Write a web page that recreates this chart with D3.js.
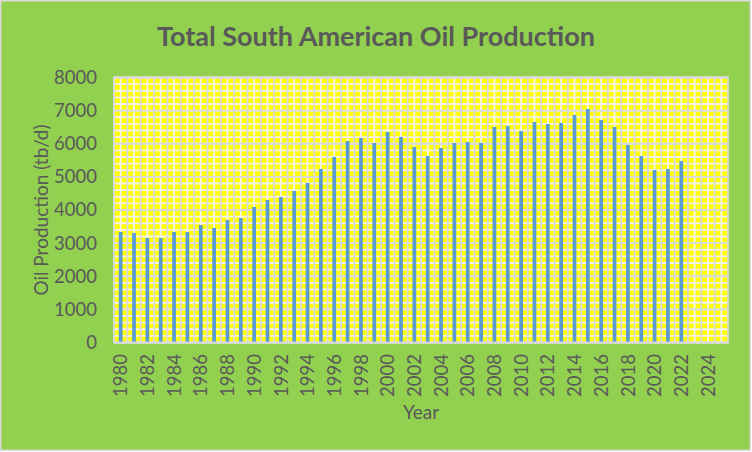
<!DOCTYPE html>
<html>
<head>
<meta charset="utf-8">
<script src="https://cdn.jsdelivr.net/npm/d3@7"></script>
<style>
	body { margin: 0; background: #ffffff; }
	text { font-family: Lato, "Open Sans", sans-serif; fill: #595959; }
</style>
</head>
<body>
<script>
const years = d3.range(1980, 2026);
const yearLabels = d3.range(1980, 2026, 2);
const production = [
	3336, 3306, 3155, 3155, 3336, 3336, 3547, 3457, 3698, 3758,
	4091, 4302, 4392, 4574, 4815, 5238, 5600, 6083, 6174, 6023,
	6355, 6204, 5902, 5630, 5872, 6023, 6053, 6023, 6506, 6536,
	6385, 6657, 6596, 6626, 6868, 7049, 6717, 6506, 5962, 5630,
	5208, 5238, 5479
];
const yTicks = [0, 1000, 2000, 3000, 4000, 5000, 6000, 7000, 8000];

const data = production.map((value, i) => {
	return { year: years[i], value: value };
});

function constructChart(data) {
	const width = 752;
	const height = 452;
	const plot = { left: 114, right: 728, top: 77.5, bottom: 342.5 };

	const scaleX = d3.scaleBand()
		.domain(years)
		.range([plot.left, plot.right]);

	const scaleY = d3.scaleLinear()
		.domain([0, 8000])
		.range([plot.bottom, plot.top]);

	const svg = d3.select("body")
		.append("svg")
		.attr("width", width)
		.attr("height", height);

	// chart area
	svg.append("rect")
		.attr("x", 0.75)
		.attr("y", 0.75)
		.attr("width", width - 2.5)
		.attr("height", height - 2.5)
		.attr("fill", "#92d050")
		.attr("stroke", "#d9d9d9")
		.attr("stroke-width", 1.5);

	// plot area
	svg.append("rect")
		.attr("x", plot.left)
		.attr("y", plot.top)
		.attr("width", plot.right - plot.left)
		.attr("height", plot.bottom - plot.top)
		.attr("fill", "#ffff00");

	const step = scaleX.step();

	// minor gridlines (white)
	svg.append("g")
		.selectAll("line")
		.data(scaleY.ticks(40))
		.join("line")
		.attr("x1", plot.left)
		.attr("x2", plot.right)
		.attr("y1", d => scaleY(d))
		.attr("y2", d => scaleY(d))
		.attr("stroke", "#f2f2f2")
		.attr("stroke-width", 1.9);

	svg.append("g")
		.selectAll("line")
		.data(years)
		.join("line")
		.attr("x1", d => scaleX(d) + step / 2)
		.attr("x2", d => scaleX(d) + step / 2)
		.attr("y1", plot.top)
		.attr("y2", plot.bottom)
		.attr("stroke", "#f2f2f2")
		.attr("stroke-width", 1.9);

	// major gridlines (grey)
	svg.append("g")
		.selectAll("line")
		.data(yTicks)
		.join("line")
		.attr("x1", plot.left)
		.attr("x2", plot.right)
		.attr("y1", d => scaleY(d))
		.attr("y2", d => scaleY(d))
		.attr("stroke", "#d9d9d9")
		.attr("stroke-width", 1.9);

	svg.append("g")
		.selectAll("line")
		.data(years)
		.join("line")
		.attr("x1", d => scaleX(d))
		.attr("x2", d => scaleX(d))
		.attr("y1", plot.top)
		.attr("y2", plot.bottom)
		.attr("stroke", "#d9d9d9")
		.attr("stroke-width", 1.9);

	// bars
	const barWidth = step * 0.28;
	svg.append("g")
		.selectAll("rect")
		.data(data)
		.join("rect")
		.attr("x", d => scaleX(d.year) + (step - barWidth) / 2)
		.attr("y", d => scaleY(d.value))
		.attr("width", barWidth)
		.attr("height", d => scaleY(0) - scaleY(d.value))
		.attr("fill", "#5b9bd5");

	// plot border
	svg.append("rect")
		.attr("x", plot.left)
		.attr("y", plot.top)
		.attr("width", plot.right - plot.left)
		.attr("height", plot.bottom - plot.top)
		.attr("fill", "none")
		.attr("stroke", "#d9d9d9")
		.attr("stroke-width", 1.8);

	// axes
	const axisY = d3.axisLeft(scaleY)
		.tickValues(yTicks)
		.tickFormat(d3.format("d"))
		.tickSize(0)
		.tickPadding(17);

	const axisX = d3.axisBottom(scaleX)
		.tickValues(yearLabels)
		.tickSize(0);

	svg.append("g")
		.attr("class", "scale-y")
		.attr("transform", `translate(${plot.left},0)`)
		.call(axisY)
		.call(g => g.select(".domain").remove())
		.selectAll("text")
		.style("font-size", "18.5px")
		.attr("fill", "#595959");

	svg.append("g")
		.attr("class", "scale-x")
		.attr("transform", `translate(0,${plot.bottom})`)
		.call(axisX)
		.call(g => g.select(".domain").remove())
		.selectAll("text")
		.style("font-size", "18.5px")
		.attr("fill", "#595959")
		.attr("text-anchor", "end")
		.attr("transform", "rotate(-90)")
		.attr("x", -11.5)
		.attr("y", 0)
		.attr("dy", "0.36em");

	// titles
	svg.append("text")
		.attr("x", 376)
		.attr("y", 45.5)
		.attr("text-anchor", "middle")
		.style("font-size", "27px")
		.style("font-weight", "bold")
		.text("Total South American Oil Production");

	svg.append("text")
		.attr("transform", `translate(48,${(plot.top + plot.bottom) / 2}) rotate(-90)`)
		.attr("text-anchor", "middle")
		.style("font-size", "19px")
		.text("Oil Production (tb/d)");

	svg.append("text")
		.attr("x", (plot.left + plot.right) / 2)
		.attr("y", 419)
		.attr("text-anchor", "middle")
		.style("font-size", "19px")
		.text("Year");
}

constructChart(data);
</script>
</body>
</html>
